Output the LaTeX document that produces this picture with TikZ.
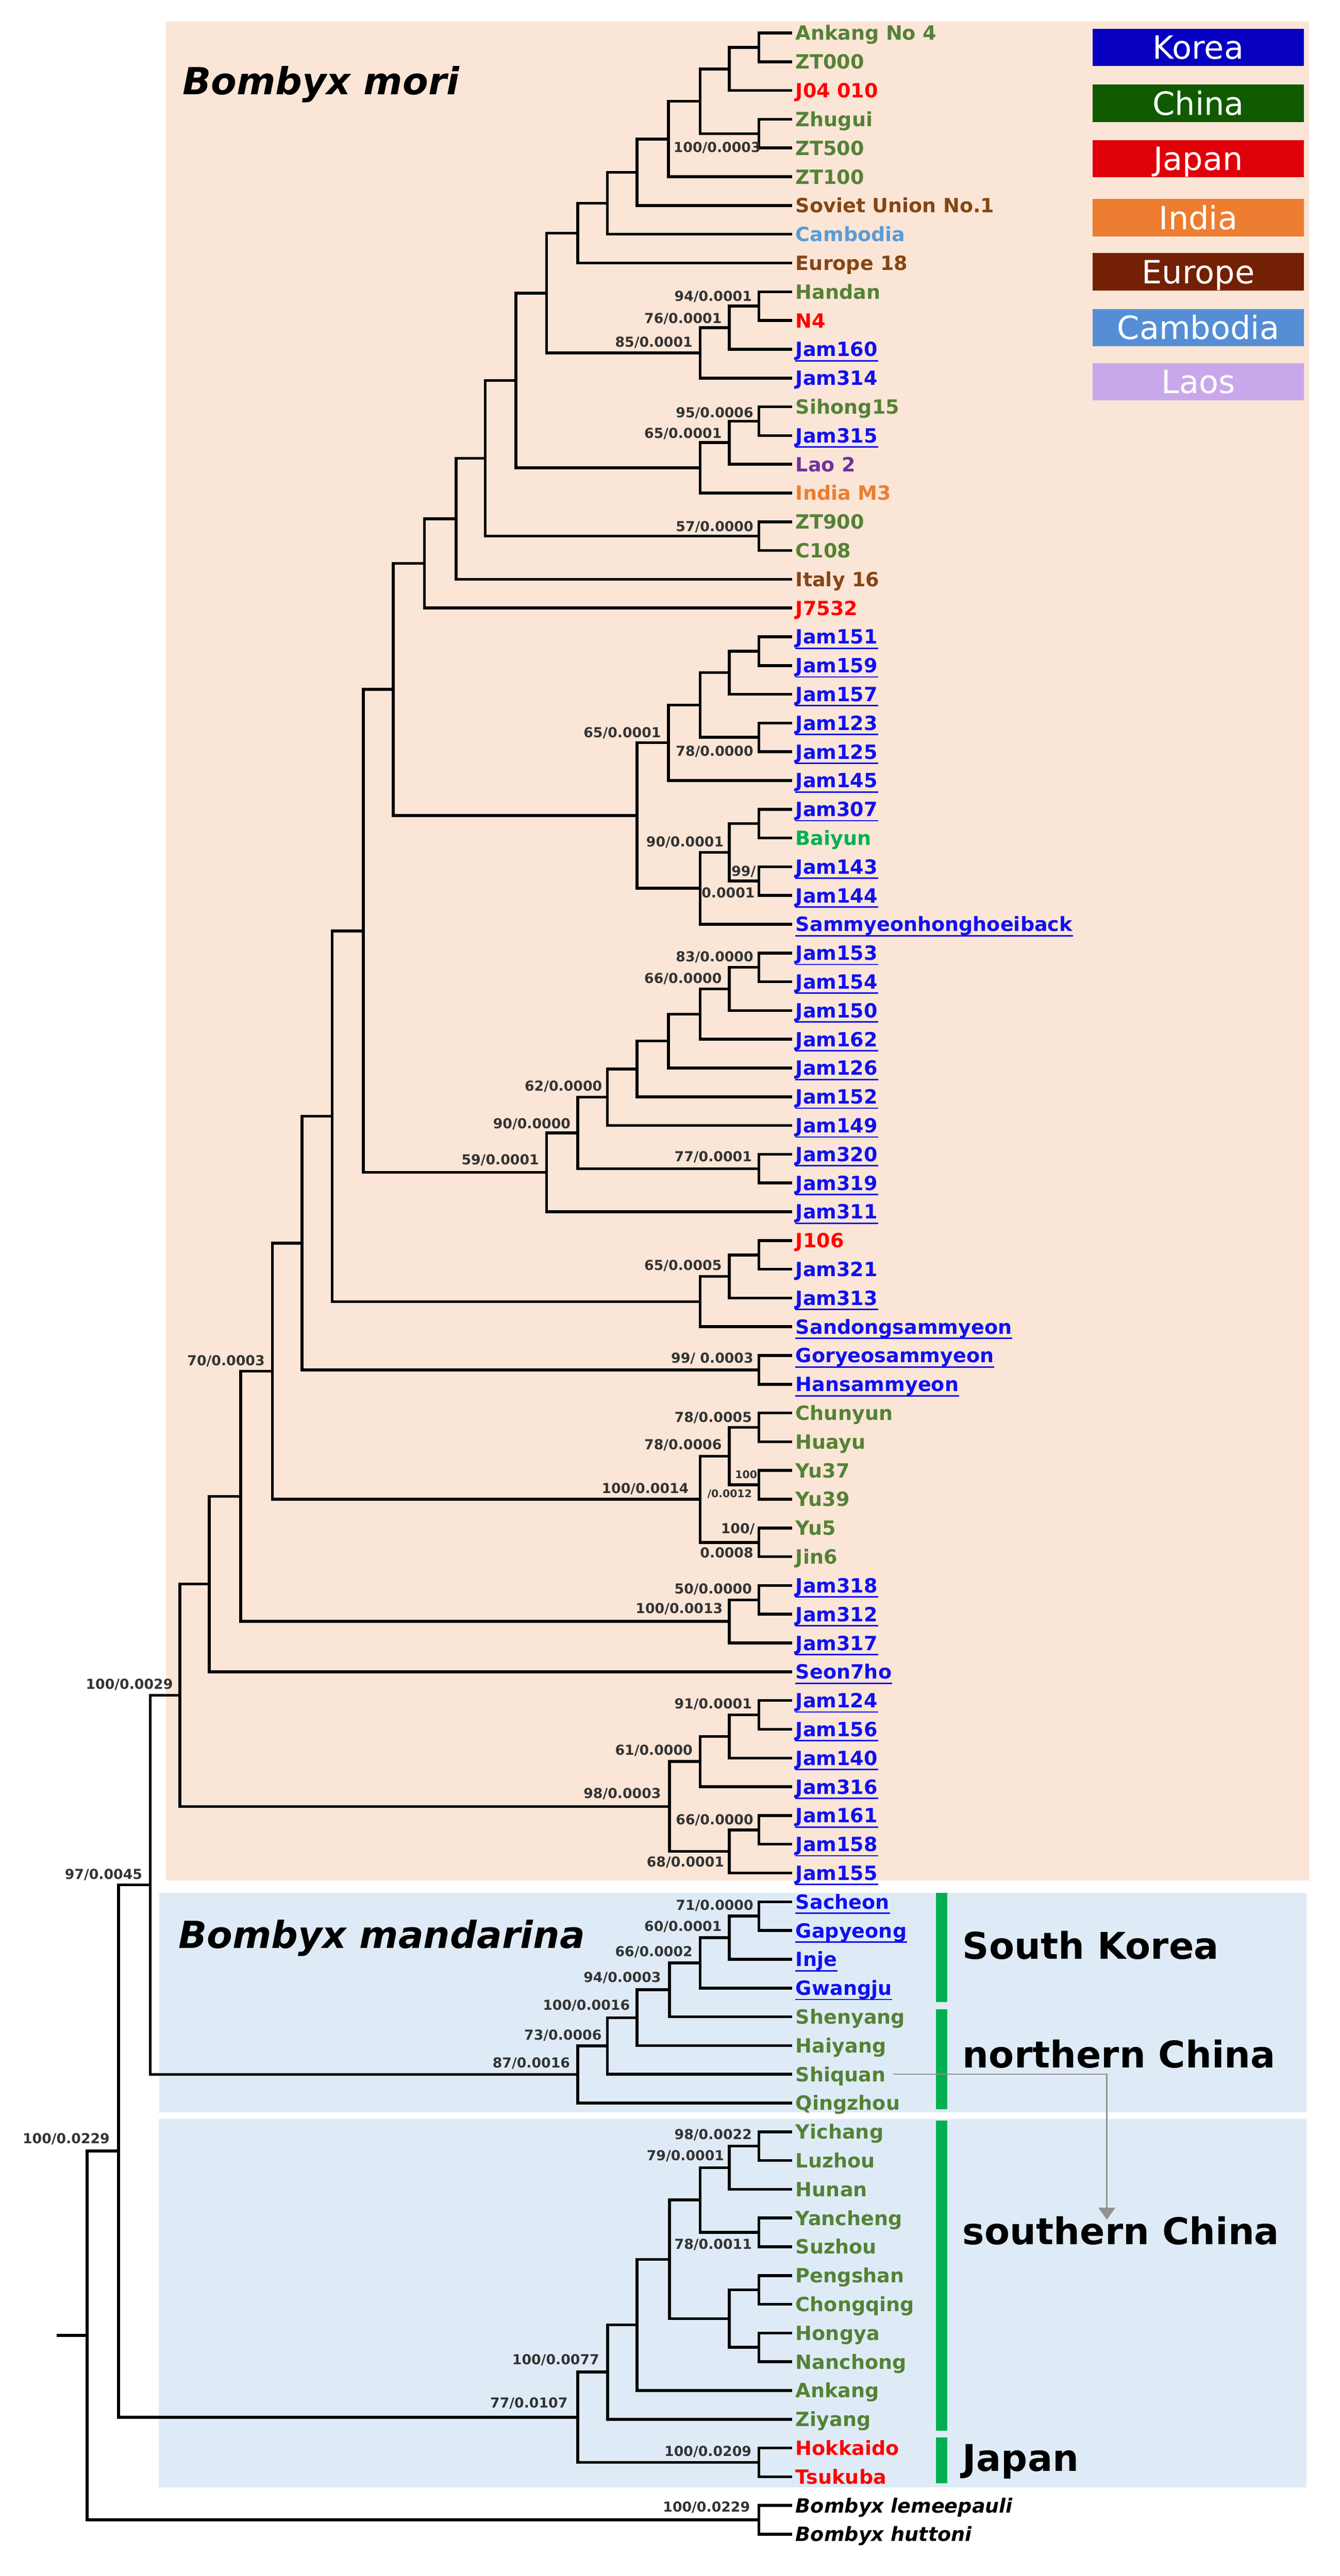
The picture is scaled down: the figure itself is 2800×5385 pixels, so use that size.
\documentclass[tikz,border=0pt]{standalone}
\usepackage{fontspec}
\setmainfont{DejaVu Sans}
\usetikzlibrary{arrows.meta}
\definecolor{olv}{RGB}{84,130,53}
\definecolor{bgreen}{RGB}{0,176,80}
\definecolor{kblue}{RGB}{16,16,240}
\definecolor{jred}{RGB}{255,0,0}
\definecolor{ebrown}{RGB}{132,70,20}
\definecolor{cambt}{RGB}{91,155,213}
\definecolor{laot}{RGB}{112,48,160}
\definecolor{indt}{RGB}{237,125,49}
\definecolor{moribg}{RGB}{251,229,214}
\definecolor{manbg}{RGB}{222,235,247}
\definecolor{barg}{RGB}{0,176,80}
\definecolor{lgK}{RGB}{8,0,192}
\definecolor{lgC}{RGB}{16,90,0}
\definecolor{lgJ}{RGB}{224,0,10}
\definecolor{lgI}{RGB}{237,125,49}
\definecolor{lgE}{RGB}{115,32,5}
\definecolor{lgCa}{RGB}{85,142,213}
\definecolor{lgL}{RGB}{200,168,234}
\definecolor{arrg}{RGB}{145,145,145}
\tikzset{
  brl/.style={line width=1.5pt, black},
  leaf/.style={inner sep=0pt, font=\fontsize{10.25}{12}\selectfont\bfseries},
  nl/.style={inner sep=0pt, text=black!80, anchor=base east, font=\fontsize{7.2}{8}\selectfont\bfseries},
  nls/.style={inner sep=0pt, text=black!80, anchor=base east, font=\fontsize{5.5}{6}\selectfont\bfseries},
  lgbox/.style={minimum width=110.5pt, minimum height=19.5pt, inner sep=0pt, text=white,
     font=\fontsize{16.75}{18}\selectfont, text height=12.2pt, text depth=0pt},
  ttl/.style={inner sep=0pt, anchor=base west, font=\fontsize{19.5}{22}\selectfont\bfseries\itshape},
  reg/.style={inner sep=0pt, anchor=base west, font=\fontsize{19.25}{22}\selectfont\bfseries},
  grarrow/.style={draw=arrg, line width=0.75pt, -{Triangle[width=8.75pt,length=6.25pt]}, arrg}
}
\newcommand\leafA[3]{\coordinate (t#1) at (1655,{69+60.1*#1});
  \node[leaf,text=#2,anchor=base west] (t#1t) at (1662,{84+60.1*#1}) {#3};}
\newcommand\leafU[3]{\leafA{#1}{#2}{#3}
  \draw[#2,line width=0.75pt] ([yshift=-2.25pt]t#1t.base west) -- ([yshift=-2.25pt]t#1t.base east);}
\newcommand\brn[3]{\draw[brl] (#2) -| (#1) |- (#3);}
\newcommand\nlab[4]{\node[nl] (#1) at (#2,{#3+10}) {#4};}
\newcommand\nlabs[4]{\node[nls] (#1) at (#2,{#3+8}) {#4};}
\begin{document}
\begin{tikzpicture}[x=0.25pt,y=-0.25pt]
\useasboundingbox (0,0) rectangle (2800,5385);
\fill[white] (0,0) rectangle (2800,5385);
% backgrounds
\fill[moribg] (347,45) rectangle (2736,3931);
\fill[manbg] (333,3957) rectangle (2730,4416);
\fill[manbg] (332,4430) rectangle (2730,5200);
% legend
\node[lgbox,fill=lgK] (lgk) at (2504,99) {Korea};
\node[lgbox,fill=lgC] (lgc) at (2504,216) {China};
\node[lgbox,fill=lgJ] (lgj) at (2504,332) {Japan};
\node[lgbox,fill=lgI] (lgi) at (2504,455) {India};
\node[lgbox,fill=lgE] (lge) at (2504,568) {Europe};
\node[lgbox,fill=lgCa] (lgca) at (2504,685) {Cambodia};
\node[lgbox,fill=lgL] (lgl) at (2504,798) {Laos};
% titles
\node[ttl] (tmori) at (381,198) {Bombyx mori};
\node[ttl] (tman) at (372,4073) {Bombyx mandarina};
% region bars and labels
\fill[barg] (1956,3957) rectangle (1980,4185);
\fill[barg] (1956,4200) rectangle (1980,4409);
\fill[barg] (1956,4433) rectangle (1980,5081);
\fill[barg] (1956,5095) rectangle (1980,5191);
\node[reg] (rsk) at (2011,4095) {South Korea};
\node[reg] (rnc) at (2011,4322) {northern China};
\node[reg] (rsc) at (2011,4692) {southern China};
\node[reg] (rjp) at (2011,5166) {Japan};
% leaves
\leafA{0}{olv}{Ankang No 4}
\leafA{1}{olv}{ZT000}
\leafA{2}{jred}{J04 010}
\leafA{3}{olv}{Zhugui}
\leafA{4}{olv}{ZT500}
\leafA{5}{olv}{ZT100}
\leafA{6}{ebrown}{Soviet Union No.1}
\leafA{7}{cambt}{Cambodia}
\leafA{8}{ebrown}{Europe 18}
\leafA{9}{olv}{Handan}
\leafA{10}{jred}{N4}
\leafU{11}{kblue}{Jam160}
\leafA{12}{kblue}{Jam314}
\leafA{13}{olv}{Sihong15}
\leafU{14}{kblue}{Jam315}
\leafA{15}{laot}{Lao 2}
\leafA{16}{indt}{India M3}
\leafA{17}{olv}{ZT900}
\leafA{18}{olv}{C108}
\leafA{19}{ebrown}{Italy 16}
\leafA{20}{jred}{J7532}
\leafU{21}{kblue}{Jam151}
\leafU{22}{kblue}{Jam159}
\leafU{23}{kblue}{Jam157}
\leafU{24}{kblue}{Jam123}
\leafU{25}{kblue}{Jam125}
\leafU{26}{kblue}{Jam145}
\leafU{27}{kblue}{Jam307}
\leafA{28}{bgreen}{Baiyun}
\leafU{29}{kblue}{Jam143}
\leafU{30}{kblue}{Jam144}
\leafU{31}{kblue}{Sammyeonhonghoeiback}
\leafU{32}{kblue}{Jam153}
\leafU{33}{kblue}{Jam154}
\leafU{34}{kblue}{Jam150}
\leafU{35}{kblue}{Jam162}
\leafU{36}{kblue}{Jam126}
\leafU{37}{kblue}{Jam152}
\leafU{38}{kblue}{Jam149}
\leafU{39}{kblue}{Jam320}
\leafU{40}{kblue}{Jam319}
\leafU{41}{kblue}{Jam311}
\leafA{42}{jred}{J106}
\leafA{43}{kblue}{Jam321}
\leafU{44}{kblue}{Jam313}
\leafU{45}{kblue}{Sandongsammyeon}
\leafU{46}{kblue}{Goryeosammyeon}
\leafU{47}{kblue}{Hansammyeon}
\leafA{48}{olv}{Chunyun}
\leafA{49}{olv}{Huayu}
\leafA{50}{olv}{Yu37}
\leafA{51}{olv}{Yu39}
\leafA{52}{olv}{Yu5}
\leafA{53}{olv}{Jin6}
\leafU{54}{kblue}{Jam318}
\leafU{55}{kblue}{Jam312}
\leafU{56}{kblue}{Jam317}
\leafU{57}{kblue}{Seon7ho}
\leafU{58}{kblue}{Jam124}
\leafU{59}{kblue}{Jam156}
\leafU{60}{kblue}{Jam140}
\leafU{61}{kblue}{Jam316}
\leafU{62}{kblue}{Jam161}
\leafU{63}{kblue}{Jam158}
\leafU{64}{kblue}{Jam155}
\leafU{65}{kblue}{Sacheon}
\leafU{66}{kblue}{Gapyeong}
\leafU{67}{kblue}{Inje}
\leafU{68}{kblue}{Gwangju}
\leafA{69}{olv}{Shenyang}
\leafA{70}{olv}{Haiyang}
\leafA{71}{olv}{Shiquan}
\leafA{72}{olv}{Qingzhou}
\leafA{73}{olv}{Yichang}
\leafA{74}{olv}{Luzhou}
\leafA{75}{olv}{Hunan}
\leafA{76}{olv}{Yancheng}
\leafA{77}{olv}{Suzhou}
\leafA{78}{olv}{Pengshan}
\leafA{79}{olv}{Chongqing}
\leafA{80}{olv}{Hongya}
\leafA{81}{olv}{Nanchong}
\leafA{82}{olv}{Ankang}
\leafA{83}{olv}{Ziyang}
\leafA{84}{jred}{Hokkaido}
\leafA{85}{jred}{Tsukuba}
\leafA{86}{black}{\itshape Bombyx lemeepauli}
\leafA{87}{black}{\itshape Bombyx huttoni}
% internal nodes
\coordinate (a1) at (1586,99.05);
\coordinate (a2) at (1524,144.1);
\coordinate (a3) at (1586,279.35);
\coordinate (a4) at (1463,211.7);
\coordinate (a5) at (1397,290.6);
\coordinate (a6) at (1331,360.1);
\coordinate (a7) at (1269,424.9);
\coordinate (a8) at (1207,487.35);
\coordinate (b1) at (1586,639.95);
\coordinate (b2) at (1524,685.0);
\coordinate (b3) at (1463,737.6);
\coordinate (a9) at (1142,612.5);
\coordinate (c1) at (1586,880.35);
\coordinate (c2) at (1524,925.4);
\coordinate (c3) at (1463,978.0);
\coordinate (a10) at (1078,795.25);
\coordinate (d1) at (1586,1120.75);
\coordinate (a11) at (1014,958.0);
\coordinate (a12) at (953,1084.45);
\coordinate (a13) at (887,1177.7);
\coordinate (e1) at (1586,1361.15);
\coordinate (e2) at (1524,1406.2);
\coordinate (e3) at (1586,1541.45);
\coordinate (e4) at (1463,1473.8);
\coordinate (e5) at (1397,1552.7);
\coordinate (f1) at (1586,1721.75);
\coordinate (f2) at (1586,1841.95);
\coordinate (f3) at (1524,1781.85);
\coordinate (f4) at (1463,1857.0);
\coordinate (e6) at (1331,1704.85);
\coordinate (a14) at (822,1441.3);
\coordinate (g1) at (1586,2022.25);
\coordinate (g2) at (1524,2067.3);
\coordinate (g3) at (1463,2119.9);
\coordinate (g4) at (1397,2176.25);
\coordinate (g5) at (1331,2234.5);
\coordinate (g6) at (1269,2293.65);
\coordinate (g7) at (1586,2442.95);
\coordinate (g8) at (1207,2368.3);
\coordinate (g9) at (1142,2450.7);
\coordinate (a15) at (759,1946.0);
\coordinate (h1) at (1586,2623.25);
\coordinate (h2) at (1524,2668.3);
\coordinate (h3) at (1463,2720.9);
\coordinate (a16) at (694,2333.45);
\coordinate (i1) at (1586,2863.65);
\coordinate (a17) at (631,2598.55);
\coordinate (j1) at (1586,2983.85);
\coordinate (j2) at (1586,3104.05);
\coordinate (j3) at (1524,3043.95);
\coordinate (j4) at (1586,3224.25);
\coordinate (j5) at (1463,3134.1);
\coordinate (a18) at (569,2866.3);
\coordinate (k1) at (1586,3344.45);
\coordinate (k2) at (1524,3389.5);
\coordinate (a19) at (503,3127.9);
\coordinate (a20) at (437,3311.3);
\coordinate (m1) at (1586,3584.85);
\coordinate (m2) at (1524,3629.9);
\coordinate (m3) at (1463,3682.5);
\coordinate (m4) at (1586,3825.25);
\coordinate (m5) at (1524,3870.3);
\coordinate (m6) at (1399,3776.4);
\coordinate (a21) at (376,3543.85);
\coordinate (p1) at (1586,4005.55);
\coordinate (p2) at (1524,4050.6);
\coordinate (p3) at (1463,4103.2);
\coordinate (p4) at (1399,4159.55);
\coordinate (p5) at (1331,4217.8);
\coordinate (p6) at (1269,4276.95);
\coordinate (p7) at (1207,4336.6);
\coordinate (r1) at (314,3940.2);
\coordinate (s1) at (1586,4486.35);
\coordinate (s2) at (1524,4531.4);
\coordinate (s3) at (1586,4666.65);
\coordinate (s4) at (1463,4599.0);
\coordinate (s5) at (1586,4786.85);
\coordinate (s6) at (1586,4907.05);
\coordinate (s7) at (1524,4846.95);
\coordinate (s8) at (1399,4723.0);
\coordinate (s9) at (1331,4860.1);
\coordinate (s10) at (1270,4958.7);
\coordinate (s11) at (1586,5147.45);
\coordinate (s12) at (1207,5053.1);
\coordinate (r2) at (248,4496.65);
\coordinate (o1) at (1586,5267.65);
\coordinate (r3) at (182,4882.15);
\coordinate (root) at (119,4882.15);
% branches
\brn{a1}{t0}{t1}
\brn{a2}{a1}{t2}
\brn{a3}{t3}{t4}
\brn{a4}{a2}{a3}
\brn{a5}{a4}{t5}
\brn{a6}{a5}{t6}
\brn{a7}{a6}{t7}
\brn{a8}{a7}{t8}
\brn{b1}{t9}{t10}
\brn{b2}{b1}{t11}
\brn{b3}{b2}{t12}
\brn{a9}{a8}{b3}
\brn{c1}{t13}{t14}
\brn{c2}{c1}{t15}
\brn{c3}{c2}{t16}
\brn{a10}{a9}{c3}
\brn{d1}{t17}{t18}
\brn{a11}{a10}{d1}
\brn{a12}{a11}{t19}
\brn{a13}{a12}{t20}
\brn{e1}{t21}{t22}
\brn{e2}{e1}{t23}
\brn{e3}{t24}{t25}
\brn{e4}{e2}{e3}
\brn{e5}{e4}{t26}
\brn{f1}{t27}{t28}
\brn{f2}{t29}{t30}
\brn{f3}{f1}{f2}
\brn{f4}{f3}{t31}
\brn{e6}{e5}{f4}
\brn{a14}{a13}{e6}
\brn{g1}{t32}{t33}
\brn{g2}{g1}{t34}
\brn{g3}{g2}{t35}
\brn{g4}{g3}{t36}
\brn{g5}{g4}{t37}
\brn{g6}{g5}{t38}
\brn{g7}{t39}{t40}
\brn{g8}{g6}{g7}
\brn{g9}{g8}{t41}
\brn{a15}{a14}{g9}
\brn{h1}{t42}{t43}
\brn{h2}{h1}{t44}
\brn{h3}{h2}{t45}
\brn{a16}{a15}{h3}
\brn{i1}{t46}{t47}
\brn{a17}{a16}{i1}
\brn{j1}{t48}{t49}
\brn{j2}{t50}{t51}
\brn{j3}{j1}{j2}
\brn{j4}{t52}{t53}
\brn{j5}{j3}{j4}
\brn{a18}{a17}{j5}
\brn{k1}{t54}{t55}
\brn{k2}{k1}{t56}
\brn{a19}{a18}{k2}
\brn{a20}{a19}{t57}
\brn{m1}{t58}{t59}
\brn{m2}{m1}{t60}
\brn{m3}{m2}{t61}
\brn{m4}{t62}{t63}
\brn{m5}{m4}{t64}
\brn{m6}{m3}{m5}
\brn{a21}{a20}{m6}
\brn{p1}{t65}{t66}
\brn{p2}{p1}{t67}
\brn{p3}{p2}{t68}
\brn{p4}{p3}{t69}
\brn{p5}{p4}{t70}
\brn{p6}{p5}{t71}
\brn{p7}{p6}{t72}
\brn{r1}{a21}{p7}
\brn{s1}{t73}{t74}
\brn{s2}{s1}{t75}
\brn{s3}{t76}{t77}
\brn{s4}{s2}{s3}
\brn{s5}{t78}{t79}
\brn{s6}{t80}{t81}
\brn{s7}{s5}{s6}
\brn{s8}{s4}{s7}
\brn{s9}{s8}{t82}
\brn{s10}{s9}{t83}
\brn{s11}{t84}{t85}
\brn{s12}{s10}{s11}
\brn{r2}{r1}{s12}
\brn{o1}{t86}{t87}
\brn{r3}{r2}{o1}
\draw[brl] (root) -- (r3);
% node labels
\nlab{n1}{1590}{308}{100/0.0003}
\nlab{n2}{1572}{620}{94/0.0001}
\nlab{n3}{1509}{666}{76/0.0001}
\nlab{n4}{1448}{715}{85/0.0001}
\nlab{n5}{1575}{863}{95/0.0006}
\nlab{n6}{1509}{906}{65/0.0001}
\nlab{n7}{1575}{1101}{57/0.0000}
\nlab{n8}{1382}{1532}{65/0.0001}
\nlab{n9}{1575}{1570}{78/0.0000}
\nlab{n10}{1513}{1760}{90/0.0001}
\nlab{n11}{1580}{1821}{99/}
\nlab{n12}{1578}{1867}{0.0001}
\nlab{n13}{1575}{2000}{83/0.0000}
\nlab{n14}{1509}{2045}{66/0.0000}
\nlab{n15}{1259}{2270}{62/0.0000}
\nlab{n16}{1193}{2349}{90/0.0000}
\nlab{n17}{1127}{2425}{59/0.0001}
\nlab{n18}{1572}{2418}{77/0.0001}
\nlab{n19}{1509}{2645}{65/0.0005}
\nlab{n20}{1575}{2839}{99/ 0.0003}
\nlab{n21}{1572}{2963}{78/0.0005}
\nlab{n22}{1509}{3020}{78/0.0006}
\nlabs{n23}{1583}{3082}{100}
\nlabs{n24}{1572}{3122}{/0.0012}
\nlab{n25}{1440}{3112}{100/0.0014}
\nlab{n26}{1578}{3196}{100/}
\nlab{n27}{1575}{3246}{0.0008}
\nlab{n28}{1572}{3322}{50/0.0000}
\nlab{n29}{1511}{3363}{100/0.0013}
\nlab{n30}{1572}{3562}{91/0.0001}
\nlab{n31}{1448}{3659}{61/0.0000}
\nlab{n32}{1382}{3749}{98/0.0003}
\nlab{n33}{1575}{3804}{66/0.0000}
\nlab{n34}{1514}{3892}{68/0.0001}
\nlab{n35}{1575}{3983}{71/0.0000}
\nlab{n36}{1509}{4027}{60/0.0001}
\nlab{n37}{1448}{4080}{66/0.0002}
\nlab{n38}{1382}{4134}{94/0.0003}
\nlab{n39}{1317}{4192}{100/0.0016}
\nlab{n40}{1258}{4254}{73/0.0006}
\nlab{n41}{1192}{4313}{87/0.0016}
\nlab{n42}{1572}{4462}{98/0.0022}
\nlab{n43}{1514}{4506}{79/0.0001}
\nlab{n44}{1572}{4692}{78/0.0011}
\nlab{n45}{1253}{4933}{100/0.0077}
\nlab{n46}{1187}{5023}{77/0.0107}
\nlab{n47}{1571}{5124}{100/0.0209}
\nlab{n48}{1568}{5241}{100/0.0229}
\nlab{n49}{230}{4471}{100/0.0229}
\nlab{n50}{298}{3918}{97/0.0045}
\nlab{n51}{362}{3521}{100/0.0029}
\nlab{n52}{554}{2845}{70/0.0003}
% gray arrow
\coordinate (arS) at (1866,4336);
\coordinate (arT) at (2313,4640);
\draw[grarrow] (arS) -| (arT);
\end{tikzpicture}
\end{document}
